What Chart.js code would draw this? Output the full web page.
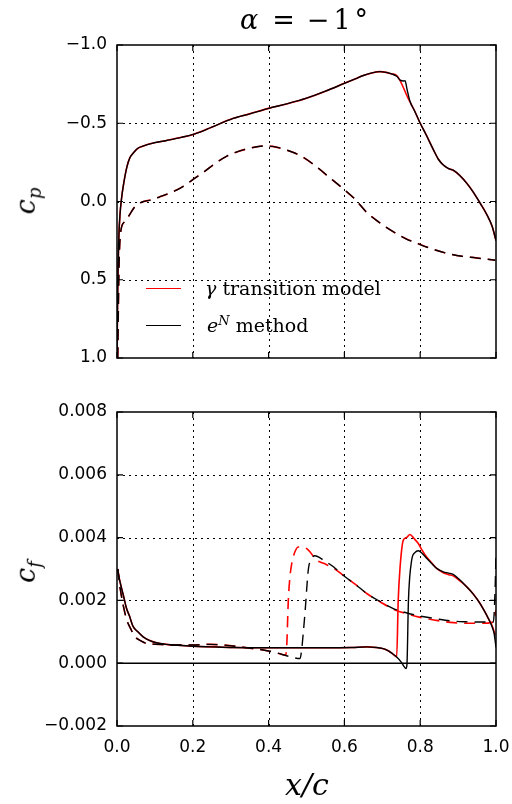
<!DOCTYPE html>
<html>
<head>
<meta charset="utf-8">
<script src="https://cdn.jsdelivr.net/npm/chart.js@4.4.1/dist/chart.umd.min.js"></script>
<style>
  body { margin: 0; background: #fff; width: 512px; height: 804px; position: relative; overflow: hidden; }
  canvas { position: absolute; left: 0; }
  #cp-chart { top: 0; }
  #cf-chart { top: 400px; }
  .txt { position: absolute; font-family: 'DejaVu Serif', serif; color: #000; white-space: nowrap; line-height: 1; }
  .it { font-style: italic; }
  .rot { transform: translate(-50%, -50%) rotate(-90deg); }
  .key { position: absolute; height: 0; border-top: 1.5px solid; }
</style>
</head>
<body>
<canvas id="cp-chart" width="512" height="400"></canvas>
<canvas id="cf-chart" width="512" height="404"></canvas>

<div class="txt" style="left:304px; top:6px; font-size:27px; transform:translateX(-50%);"><span class="it">α</span><span style="margin:0 12px 0 14px;">=</span>−<span style="margin-left:4px;">1</span><span style="margin-left:4px;">°</span></div>
<div class="txt rot" style="left:28px; top:201px; font-size:27px;"><span class="it">c<sub style="font-size:18px;">p</sub></span></div>
<div class="txt rot" style="left:28px; top:572px; font-size:27px;"><span class="it">c<sub style="font-size:18px;">f</sub></span></div>
<div class="txt it" style="left:307px; top:770px; font-size:30px; transform:translateX(-50%);">x/c</div>

<div class="key" style="left:146px; top:288px; width:35px; border-color:#ff0000;"></div>
<div class="txt" style="left:205px; top:279px; font-size:19px;"><span class="it">γ</span> transition model</div>
<div class="key" style="left:146px; top:325px; width:35px; border-color:#000;"></div>
<div class="txt" style="left:207px; top:314px; font-size:19px;"><span class="it">e<sup style="font-size:13px;">N</sup></span> method</div>

<script>
// ── Pressure coefficient, upper surface (solid) ─────────────────────
const cpUpX_eN  = [0.0, 0.002, 0.005, 0.008, 0.012, 0.018, 0.026, 0.034, 0.043, 0.055, 0.07, 0.09, 0.131, 0.17, 0.203, 0.25, 0.305, 0.35, 0.4, 0.45, 0.5, 0.55, 0.6, 0.63, 0.65, 0.67, 0.694, 0.71, 0.725, 0.738, 0.747, 0.756, 0.76, 0.765, 0.773, 0.785, 0.8, 0.815, 0.835, 0.848, 0.861, 0.875, 0.887, 0.905, 0.923, 0.94, 0.958, 0.975, 0.99, 1.0];
const cpUp_eN   = [1.0, 0.55, 0.22, 0.08, -0.02, -0.12, -0.22, -0.28, -0.31, -0.34, -0.355, -0.37, -0.39, -0.41, -0.43, -0.475, -0.53, -0.56, -0.595, -0.625, -0.66, -0.705, -0.755, -0.785, -0.805, -0.82, -0.83, -0.825, -0.815, -0.8, -0.776, -0.77, -0.772, -0.72, -0.64, -0.58, -0.5, -0.43, -0.33, -0.27, -0.233, -0.21, -0.2, -0.165, -0.116, -0.06, 0.01, 0.08, 0.16, 0.25];
const cpUpX_gam = [0.0, 0.002, 0.005, 0.008, 0.012, 0.018, 0.026, 0.034, 0.043, 0.055, 0.07, 0.09, 0.131, 0.17, 0.203, 0.25, 0.305, 0.35, 0.4, 0.45, 0.5, 0.55, 0.6, 0.63, 0.65, 0.67, 0.694, 0.71, 0.725, 0.738, 0.769, 0.785, 0.8, 0.815, 0.835, 0.848, 0.861, 0.875, 0.887, 0.905, 0.923, 0.94, 0.958, 0.975, 0.99, 1.0];
const cpUp_gam  = [1.0, 0.55, 0.22, 0.08, -0.02, -0.12, -0.22, -0.28, -0.31, -0.34, -0.355, -0.37, -0.39, -0.41, -0.43, -0.475, -0.53, -0.56, -0.595, -0.625, -0.66, -0.705, -0.755, -0.785, -0.805, -0.82, -0.83, -0.825, -0.815, -0.805, -0.655, -0.58, -0.5, -0.43, -0.33, -0.27, -0.233, -0.21, -0.2, -0.165, -0.116, -0.06, 0.01, 0.08, 0.16, 0.25];

// ── Pressure coefficient, lower surface (dashed, same for both) ─────
const cpLoX = [0.002, 0.005, 0.01, 0.02, 0.03, 0.045, 0.056, 0.07, 0.09, 0.113, 0.135, 0.157, 0.18, 0.2, 0.23, 0.26, 0.29, 0.32, 0.35, 0.385, 0.41, 0.446, 0.486, 0.525, 0.56, 0.6, 0.63, 0.657, 0.69, 0.72, 0.76, 0.8, 0.84, 0.877, 0.91, 0.947, 0.97, 0.998];
const cpLo  = [1.0, 0.45, 0.19, 0.13, 0.097, 0.04, 0.016, 0.0, -0.01, -0.03, -0.05, -0.073, -0.105, -0.14, -0.19, -0.245, -0.29, -0.32, -0.34, -0.355, -0.352, -0.33, -0.29, -0.225, -0.155, -0.075, -0.01, 0.065, 0.13, 0.18, 0.235, 0.275, 0.31, 0.335, 0.35, 0.36, 0.367, 0.375];

// ── Skin friction, upper surface (solid) ────────────────────────────
const cfUpX_eN  = [0.002, 0.006, 0.011, 0.018, 0.025, 0.033, 0.042, 0.055, 0.069, 0.085, 0.104, 0.13, 0.16, 0.2, 0.25, 0.306, 0.4, 0.483, 0.55, 0.62, 0.659, 0.684, 0.7, 0.712, 0.725, 0.738, 0.751, 0.757, 0.7625, 0.765, 0.769, 0.7775, 0.786, 0.795, 0.805, 0.817, 0.83, 0.8435, 0.861, 0.875, 0.887, 0.905, 0.923, 0.94, 0.958, 0.97, 0.98, 0.99, 0.995, 1.0];
const cfUp_eN   = [0.0030, 0.0027, 0.00244, 0.0021, 0.00175, 0.0015, 0.00118, 0.001, 0.00084, 0.00073, 0.00065, 0.0006, 0.00057, 0.00054, 0.00052, 0.0005, 0.00049, 0.00049, 0.00049, 0.0005, 0.00052, 0.0005, 0.00047, 0.00042, 0.00032, 0.0002, 0.00002, -0.0001, -0.00017, -0.00005, 0.002, 0.00328, 0.00352, 0.00358, 0.0035, 0.00334, 0.00318, 0.00302, 0.00291, 0.00287, 0.00283, 0.00265, 0.00243, 0.0022, 0.0019, 0.00165, 0.00142, 0.00115, 0.00095, 0.0005];
const cfUpX_gam = [0.002, 0.006, 0.011, 0.018, 0.025, 0.033, 0.042, 0.055, 0.069, 0.085, 0.104, 0.13, 0.16, 0.2, 0.25, 0.306, 0.4, 0.483, 0.55, 0.62, 0.659, 0.684, 0.7, 0.712, 0.725, 0.738, 0.742, 0.747, 0.7555, 0.764, 0.773, 0.783, 0.795, 0.805, 0.817, 0.83, 0.8435, 0.861, 0.875, 0.887, 0.905, 0.923, 0.94, 0.958, 0.97, 0.98, 0.99, 0.998];
const cfUp_gam  = [0.0030, 0.0027, 0.00244, 0.0021, 0.00175, 0.0015, 0.00118, 0.001, 0.00084, 0.00073, 0.00065, 0.0006, 0.00057, 0.00054, 0.00052, 0.0005, 0.00049, 0.00049, 0.00049, 0.0005, 0.00052, 0.0005, 0.00047, 0.00042, 0.00032, 0.0002, 0.002, 0.00307, 0.00392, 0.004, 0.0041, 0.00398, 0.00381, 0.0036, 0.00338, 0.0032, 0.00302, 0.00288, 0.00282, 0.00278, 0.00262, 0.00243, 0.0022, 0.0019, 0.00165, 0.00142, 0.00118, 0.0009];

// ── Skin friction, lower surface (dashed) ───────────────────────────
const cfLoX_eN  = [0.002, 0.007, 0.012, 0.019, 0.026, 0.036, 0.047, 0.062, 0.078, 0.109, 0.15, 0.2, 0.245, 0.306, 0.35, 0.386, 0.421, 0.452, 0.483, 0.487, 0.491, 0.496, 0.505, 0.512, 0.522, 0.545, 0.571, 0.6, 0.63, 0.659, 0.695, 0.729, 0.765, 0.8, 0.84, 0.879, 0.92, 0.958, 0.993, 0.998, 1.0];
const cfLo_eN   = [0.003, 0.0025, 0.00212, 0.0017, 0.00137, 0.0011, 0.00085, 0.00072, 0.00063, 0.0006, 0.00058, 0.00058, 0.0006, 0.00055, 0.00048, 0.00042, 0.00033, 0.00022, 0.00015, 0.0004, 0.0009, 0.0016, 0.003, 0.0033, 0.00342, 0.00328, 0.00307, 0.00277, 0.0025, 0.00222, 0.00196, 0.00174, 0.0016, 0.0015, 0.00142, 0.00135, 0.00132, 0.00131, 0.00131, 0.0025, 0.0035];
const cfLoX_gam = [0.002, 0.007, 0.012, 0.019, 0.026, 0.036, 0.047, 0.062, 0.078, 0.109, 0.15, 0.2, 0.245, 0.306, 0.35, 0.386, 0.421, 0.445, 0.448, 0.452, 0.456, 0.461, 0.468, 0.478, 0.49, 0.505, 0.527, 0.545, 0.571, 0.6, 0.63, 0.659, 0.695, 0.729, 0.765, 0.8, 0.84, 0.879, 0.92, 0.958, 0.99, 0.996, 1.0];
const cfLo_gam  = [0.003, 0.0025, 0.00212, 0.0017, 0.00137, 0.0011, 0.00085, 0.00072, 0.00063, 0.0006, 0.00058, 0.00058, 0.0006, 0.00055, 0.00048, 0.00042, 0.00033, 0.00026, 0.0006, 0.002, 0.0027, 0.00317, 0.0035, 0.0037, 0.0037, 0.0036, 0.00328, 0.00318, 0.00303, 0.00277, 0.0025, 0.00222, 0.00195, 0.00172, 0.00157, 0.00146, 0.00137, 0.0013, 0.00127, 0.00127, 0.0013, 0.0014, 0.0017];

// ── Axis ticks ──────────────────────────────────────────────────────
const xTicks  = [0.0, 0.2, 0.4, 0.6, 0.8, 1.0];
const cpTicks = [-1.0, -0.5, 0.0, 0.5, 1.0];
const cfTicks = [-0.002, 0.0, 0.002, 0.004, 0.006, 0.008];

const RED = '#ff0000', BLK = '#000000', DASH = [11, 7];
const pts = (xs, ys) => xs.map((x, i) => ({ x, y: ys[i] }));
const minus = s => s.replace('-', '\u2212');

function line(data, color, dashed) {
    return {
        data, borderColor: color, borderWidth: color === RED ? 1.6 : 1.4,
        borderDash: dashed ? DASH : [], pointRadius: 0,
        cubicInterpolationMode: 'monotone', fill: false
    };
}

// grid (dotted) before the lines, box + inward ticks after
const frame = {
    id: 'frame',
    beforeDatasetsDraw(chart, args, opts) {
        const { ctx, chartArea: a, scales: { x, y } } = chart;
        ctx.save();
        ctx.strokeStyle = '#000';
        ctx.lineWidth = 1;
        ctx.setLineDash([2, 4]);
        ctx.beginPath();
        xTicks.slice(1, -1).forEach(v => {
            const px = Math.round(x.getPixelForValue(v)) + 0.5;
            ctx.moveTo(px, a.top); ctx.lineTo(px, a.bottom);
        });
        opts.yTicks.slice(1, -1).forEach(v => {
            if (opts.zero && v === 0) return;
            const py = Math.round(y.getPixelForValue(v)) + 0.5;
            ctx.moveTo(a.left, py); ctx.lineTo(a.right, py);
        });
        ctx.stroke();
        ctx.setLineDash([]);
        if (opts.zero) {
            const py = y.getPixelForValue(0);
            ctx.lineWidth = 1.4;
            ctx.beginPath(); ctx.moveTo(a.left, py); ctx.lineTo(a.right, py); ctx.stroke();
        }
        ctx.restore();
    },
    afterDatasetsDraw(chart, args, opts) {
        const { ctx, chartArea: a, scales: { x, y } } = chart;
        const T = 6;
        ctx.save();
        ctx.strokeStyle = '#000';
        ctx.lineWidth = 1.2;
        ctx.beginPath();
        xTicks.forEach(v => {
            const px = x.getPixelForValue(v);
            ctx.moveTo(px, a.bottom); ctx.lineTo(px, a.bottom - T);
            ctx.moveTo(px, a.top); ctx.lineTo(px, a.top + T);
        });
        opts.yTicks.forEach(v => {
            const py = y.getPixelForValue(v);
            ctx.moveTo(a.left, py); ctx.lineTo(a.left + T, py);
            ctx.moveTo(a.right, py); ctx.lineTo(a.right - T, py);
        });
        ctx.stroke();
        ctx.lineWidth = 1.5;
        ctx.strokeRect(a.left, a.top, a.right - a.left, a.bottom - a.top);
        ctx.restore();
    }
};

const tickFont = { family: 'DejaVu Sans', size: 17 };

function makeChart(id, datasets, yOpts, pad, showX, frameOpts) {
    return new Chart(document.getElementById(id), {
        type: 'line',
        data: { datasets },
        plugins: [frame],
        options: {
            responsive: false,
            animation: false,
            layout: { padding: pad },
            plugins: { legend: { display: false }, tooltip: { enabled: false }, frame: frameOpts },
            scales: {
                x: {
                    type: 'linear', min: 0, max: 1,
                    grid: { display: false, drawTicks: false }, border: { display: false },
                    ticks: {
                        display: showX, stepSize: 0.2, padding: 11, color: '#000', font: tickFont,
                        maxRotation: 0, callback: v => v.toFixed(1)
                    },
                    afterFit: s => { s.height = showX ? 78 : 0; s.paddingLeft = 0; s.paddingRight = 0; }
                },
                y: Object.assign({
                    grid: { display: false, drawTicks: false }, border: { display: false },
                    afterFit: s => { s.width = 117; s.paddingTop = 0; s.paddingBottom = 0; }
                }, yOpts)
            }
        }
    });
}

makeChart('cp-chart', [
    line(pts(cpUpX_eN, cpUp_eN), BLK, false),
    line(pts(cpLoX, cpLo), BLK, true),
    line(pts(cpUpX_gam, cpUp_gam), RED, false),
    line(pts(cpLoX, cpLo), RED, true)
], {
    min: -1, max: 1, reverse: true,
    ticks: { stepSize: 0.5, padding: 10, color: '#000', font: tickFont, callback: v => minus(v.toFixed(1)) }
}, { left: 0, right: 16, top: 45, bottom: 42 }, false, { yTicks: cpTicks, zero: false });

makeChart('cf-chart', [
    line(pts(cfUpX_eN, cfUp_eN), BLK, false),
    line(pts(cfLoX_eN, cfLo_eN), BLK, true),
    line(pts(cfUpX_gam, cfUp_gam), RED, false),
    line(pts(cfLoX_gam, cfLo_gam), RED, true)
], {
    min: -0.002, max: 0.008,
    ticks: { stepSize: 0.002, padding: 10, color: '#000', font: tickFont, callback: v => minus(v.toFixed(3)) }
}, { left: 0, right: 16, top: 12, bottom: 0 }, true, { yTicks: cfTicks, zero: true });
</script>
</body>
</html>
